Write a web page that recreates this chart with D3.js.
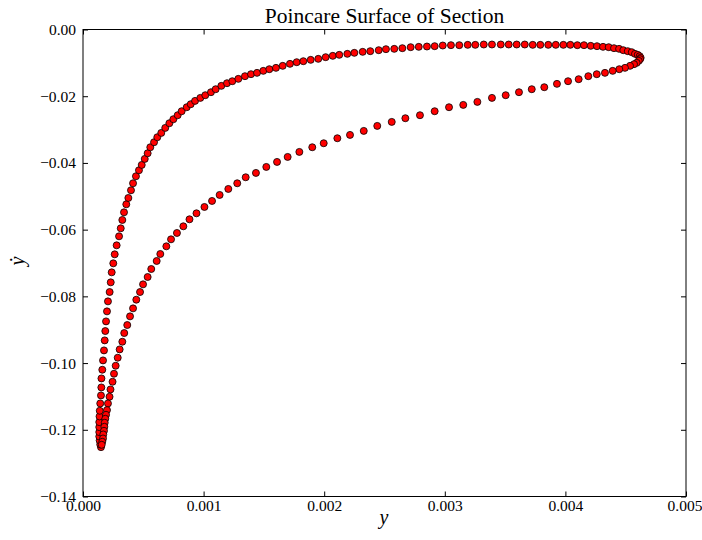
<!DOCTYPE html>
<html>
<head>
<meta charset="utf-8">
<script src="https://cdn.jsdelivr.net/npm/d3@7/dist/d3.min.js"></script>
<style>
  html, body { margin: 0; padding: 0; background: #fff; }
  svg { display: block; }
  .tick text { font-family: "Liberation Serif", "DejaVu Serif", serif; }
</style>
</head>
<body>
<svg id="chart" width="702" height="540"></svg>
<script>
// Poincare section points: y (horizontal) and y-dot (vertical), in plotting order
const yVals = [
0.000149,0.000143,0.000138,0.000135,0.000135,0.000135,0.000135,0.000137,0.000139,0.000143,
0.000149,0.000152,0.000153,0.000160,0.000166,0.000174,0.000180,0.000185,0.000191,0.000199,
0.000207,0.000221,0.000230,0.000238,0.000251,0.000263,0.000279,0.000299,0.000313,0.000326,
0.000340,0.000359,0.000376,0.000398,0.000415,0.000439,0.000464,0.000487,0.000512,0.000536,
0.000558,0.000589,0.000616,0.000649,0.000682,0.000716,0.000749,0.000785,0.000818,0.000860,
0.000893,0.000929,0.000973,0.001014,0.001061,0.001100,0.001147,0.001194,0.001238,0.001288,
0.001343,0.001393,0.001443,0.001495,0.001545,0.001600,0.001656,0.001716,0.001772,0.001827,
0.001888,0.001951,0.002012,0.002071,0.002125,0.002192,0.002250,0.002319,0.002382,0.002452,
0.002512,0.002581,0.002648,0.002717,0.002784,0.002852,0.002916,0.002983,0.003051,0.003120,
0.003190,0.003253,0.003323,0.003391,0.003464,0.003530,0.003596,0.003663,0.003729,0.003792,
0.003858,0.003920,0.003983,0.004041,0.004099,0.004154,0.004210,0.004262,0.004312,0.004359,
0.004403,0.004445,0.004480,0.004517,0.004550,0.004577,0.004600,0.004616,0.004624,0.004619,
0.004608,0.004591,0.004569,0.004536,0.004494,0.004447,0.004392,0.004328,0.004260,0.004190,
0.004110,0.004022,0.003930,0.003825,0.003721,0.003615,0.003505,0.003391,0.003270,0.003153,
0.003035,0.002916,0.002794,0.002673,0.002560,0.002440,0.002328,0.002214,0.002109,0.001996,
0.001901,0.001794,0.001697,0.001609,0.001520,0.001434,0.001349,0.001279,0.001205,0.001133,
0.001070,0.001007,0.000941,0.000883,0.000832,0.000779,0.000730,0.000691,0.000641,0.000611,
0.000566,0.000536,0.000498,0.000473,0.000442,0.000415,0.000390,0.000367,0.000342,0.000326,
0.000304,0.000288,0.000271,0.000257,0.000245,0.000228,0.000220,0.000207,0.000199,0.000191,
0.000185,0.000180,0.000177,0.000174,0.000168,0.000166,0.000160,0.000155
];
const yDotVals = [
-0.1252,-0.1244,-0.1232,-0.1220,-0.1207,-0.1192,-0.1177,-0.1160,-0.1143,-0.1121,
-0.1097,-0.1073,-0.1046,-0.1020,-0.0992,-0.0962,-0.0932,-0.0904,-0.0875,-0.0845,
-0.0815,-0.0787,-0.0758,-0.0728,-0.0701,-0.0674,-0.0647,-0.0620,-0.0596,-0.0571,
-0.0548,-0.0524,-0.0505,-0.0482,-0.0461,-0.0440,-0.0422,-0.0406,-0.0388,-0.0371,
-0.0353,-0.0338,-0.0323,-0.0310,-0.0295,-0.0281,-0.0269,-0.0257,-0.0245,-0.0233,
-0.0224,-0.0214,-0.0205,-0.0197,-0.0188,-0.0179,-0.0169,-0.0161,-0.0155,-0.0148,
-0.0140,-0.0134,-0.0130,-0.0124,-0.0119,-0.0115,-0.0109,-0.0103,-0.0098,-0.0095,
-0.0091,-0.0088,-0.0083,-0.0079,-0.0076,-0.0073,-0.0070,-0.0067,-0.0065,-0.0062,
-0.0059,-0.0058,-0.0056,-0.0053,-0.0052,-0.0051,-0.0050,-0.0048,-0.0047,-0.0047,
-0.0046,-0.0046,-0.0045,-0.0045,-0.0045,-0.0045,-0.0045,-0.0045,-0.0046,-0.0046,
-0.0046,-0.0046,-0.0046,-0.0046,-0.0047,-0.0047,-0.0049,-0.0050,-0.0052,-0.0053,
-0.0056,-0.0058,-0.0062,-0.0065,-0.0068,-0.0073,-0.0076,-0.0080,-0.0085,-0.0089,
-0.0094,-0.0100,-0.0104,-0.0109,-0.0115,-0.0119,-0.0124,-0.0130,-0.0134,-0.0140,
-0.0149,-0.0155,-0.0163,-0.0173,-0.0179,-0.0188,-0.0197,-0.0205,-0.0217,-0.0226,
-0.0233,-0.0245,-0.0257,-0.0266,-0.0277,-0.0289,-0.0304,-0.0316,-0.0326,-0.0341,
-0.0353,-0.0367,-0.0382,-0.0397,-0.0412,-0.0430,-0.0443,-0.0461,-0.0478,-0.0496,
-0.0514,-0.0532,-0.0551,-0.0569,-0.0590,-0.0610,-0.0629,-0.0650,-0.0673,-0.0694,
-0.0718,-0.0742,-0.0764,-0.0787,-0.0810,-0.0836,-0.0860,-0.0886,-0.0910,-0.0936,
-0.0959,-0.0984,-0.1008,-0.1032,-0.1056,-0.1079,-0.1101,-0.1121,-0.1141,-0.1155,
-0.1167,-0.1179,-0.1191,-0.1203,-0.1214,-0.1226,-0.1236,-0.1245
];
const xTicks = [0.000, 0.001, 0.002, 0.003, 0.004, 0.005];
const xTickLabels = ["0.000", "0.001", "0.002", "0.003", "0.004", "0.005"];
const yTicks = [0.00, -0.02, -0.04, -0.06, -0.08, -0.10, -0.12, -0.14];
const yTickLabels = ["0.00", "\u22120.02", "\u22120.04", "\u22120.06", "\u22120.08", "\u22120.10", "\u22120.12", "\u22120.14"];
const titleText = "Poincare Surface of Section";
const xLabelText = "y";
const yLabelText = "\u1E8F";

const W = 702, H = 540;
const margin = { top: 29.5, right: 16, bottom: 43.5, left: 83 };
const iw = W - margin.left - margin.right;
const ih = H - margin.top - margin.bottom;
const serif = '"Liberation Serif", "DejaVu Serif", serif';

const svg = d3.select("#chart");
const g = svg.append("g").attr("transform", `translate(${margin.left},${margin.top})`);

const x = d3.scaleLinear().domain([0, 0.005]).range([0, iw]);
const y = d3.scaleLinear().domain([-0.14, 0]).range([ih, 0]);

// points
const pts = yVals.map((v, i) => ({ x: v, y: yDotVals[i] }));
g.append("g").selectAll("circle").data(pts).join("circle")
  .attr("cx", d => x(d.x)).attr("cy", d => y(d.y)).attr("r", 3.5)
  .attr("fill", "#ff0000").attr("stroke", "#000").attr("stroke-width", 0.8);

// axes (ticks inward on all sides)
const tl = 5;
const xb = d3.axisBottom(x).tickValues(xTicks).tickFormat((d, i) => xTickLabels[i]).tickSizeInner(-tl).tickSizeOuter(0).tickPadding(3);
const xt = d3.axisTop(x).tickValues(xTicks).tickFormat("").tickSizeInner(-tl).tickSizeOuter(0);
const yl = d3.axisLeft(y).tickValues(yTicks).tickFormat((d, i) => yTickLabels[i]).tickSizeInner(-tl).tickSizeOuter(0).tickPadding(7);
const yr = d3.axisRight(y).tickValues(yTicks).tickFormat("").tickSizeInner(-tl).tickSizeOuter(0);

function style(sel) {
  sel.select(".domain").remove();
  sel.selectAll(".tick line").attr("stroke", "#000").attr("stroke-width", 1);
  sel.selectAll(".tick text").attr("fill", "#000").style("font-family", serif).style("font-size", "15.5px");
}
const xAxisG = g.append("g").attr("transform", `translate(0,${ih})`).call(xb).call(style);
// keep the last label inside the canvas
xAxisG.selectAll(".tick text").filter((d, i) => i === xTicks.length - 1).attr("dx", -1.5);
g.append("g").call(xt).call(style);
g.append("g").call(yl).call(style);
g.append("g").attr("transform", `translate(${iw},0)`).call(yr).call(style);

// frame
g.append("rect").attr("x", 0).attr("y", 0).attr("width", iw).attr("height", ih)
  .attr("fill", "none").attr("stroke", "#000").attr("stroke-width", 1);

// title and labels
svg.append("text").attr("x", margin.left + iw / 2).attr("y", 23)
  .attr("text-anchor", "middle").style("font-family", serif).style("font-size", "21.5px")
  .text(titleText);
svg.append("text").attr("x", 384).attr("y", 524)
  .attr("text-anchor", "middle").style("font-family", serif).style("font-size", "20px")
  .style("font-style", "italic").text(xLabelText);
svg.append("text").attr("transform", `translate(23.5,261) rotate(-90)`)
  .attr("text-anchor", "middle").style("font-family", serif).style("font-size", "20px")
  .style("font-style", "italic").text(yLabelText);
</script>
</body>
</html>
